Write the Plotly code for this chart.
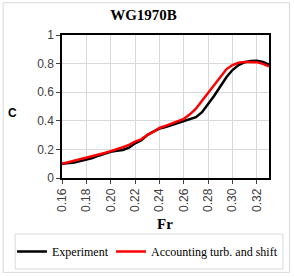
import plotly.graph_objects as go

fr = [0.160, 0.165, 0.170, 0.175, 0.180, 0.185, 0.190, 0.195, 0.200, 0.205,
      0.210, 0.215, 0.220, 0.225, 0.230, 0.235, 0.240, 0.245, 0.250, 0.255,
      0.260, 0.265, 0.270, 0.275, 0.280, 0.285, 0.290, 0.295, 0.300, 0.305,
      0.310, 0.315, 0.320, 0.325, 0.330]
c_experiment = [0.100, 0.102, 0.108, 0.118, 0.128, 0.140, 0.156, 0.170, 0.183, 0.190,
                0.196, 0.212, 0.243, 0.262, 0.300, 0.325, 0.345, 0.357, 0.370, 0.385,
                0.398, 0.408, 0.425, 0.460, 0.515, 0.575, 0.640, 0.705, 0.755, 0.790,
                0.810, 0.818, 0.820, 0.812, 0.792]
c_model = [0.100, 0.110, 0.120, 0.130, 0.142, 0.152, 0.163, 0.175, 0.188, 0.200,
           0.215, 0.232, 0.255, 0.270, 0.300, 0.322, 0.350, 0.365, 0.380, 0.395,
           0.413, 0.445, 0.485, 0.540, 0.595, 0.655, 0.712, 0.760, 0.790, 0.806,
           0.812, 0.812, 0.810, 0.798, 0.780]

x_ticks = [0.16, 0.18, 0.20, 0.22, 0.24, 0.26, 0.28, 0.30, 0.32]
x_ticktext = ["0.16", "0.18", "0.20", "0.22", "0.24", "0.26", "0.28", "0.30", "0.32"]
y_ticks = [0, 0.2, 0.4, 0.6, 0.8, 1]
y_ticktext = ["0", "0.2", "0.4", "0.6", "0.8", "1"]

W, H = 294, 277
L, R, T, B = 62, 269.5, 35.3, 178.3


def px(x):
    return (x - L) / (R - L)


def py(y):
    return (B - y) / (B - T)


fig = go.Figure()
fig.add_trace(go.Scatter(x=fr, y=c_experiment, mode="lines", name="Experiment",
                         line=dict(color="black", width=2.5), legend="legend"))
fig.add_trace(go.Scatter(x=fr, y=c_model, mode="lines", name="Accounting turb. and shift",
                         line=dict(color="#ff0000", width=2.5), legend="legend2"))

tickfont = dict(family="Liberation Sans", size=12, color="#404040")
legfont = dict(family="Liberation Serif", size=12, color="black")
fig.update_layout(
    width=W, height=H,
    margin=dict(l=L, r=W - R, t=T, b=H - B, pad=0, autoexpand=False),
    paper_bgcolor="white", plot_bgcolor="white",
    title=dict(text="<b>WG1970B</b>", x=143.5 / W, xanchor="center",
               y=1 - 15 / H, yanchor="middle", yref="container",
               font=dict(family="Liberation Serif", size=15, color="black")),
    xaxis=dict(range=[0.16, 0.33], tickvals=x_ticks, ticktext=x_ticktext, tickangle=-90,
               showgrid=True, gridcolor="#d9d9d9", gridwidth=1,
               showline=True, linecolor="black", linewidth=1.5, mirror=True,
               ticks="outside", ticklen=4, tickcolor="#404040", tickfont=tickfont,
               zeroline=False),
    yaxis=dict(range=[0, 1], tickvals=y_ticks, ticktext=y_ticktext,
               showgrid=True, gridcolor="#d9d9d9", gridwidth=1,
               showline=True, linecolor="black", linewidth=1.5, mirror=True,
               ticks="outside", ticklen=4, tickcolor="#404040", tickfont=tickfont,
               zeroline=False),
    showlegend=True,
    legend=dict(xref="container", yref="container",
                x=12 / W, xanchor="left", y=1 - 251.5 / H, yanchor="middle",
                font=legfont, bgcolor="rgba(0,0,0,0)", borderwidth=0),
    legend2=dict(xref="container", yref="container",
                 x=111 / W, xanchor="left", y=1 - 251.5 / H, yanchor="middle",
                 font=legfont, bgcolor="rgba(0,0,0,0)", borderwidth=0),
    shapes=[
        dict(type="rect", xref="paper", yref="paper", x0=px(3), x1=px(290), y0=py(272.7), y1=py(3),
             line=dict(color="#d9d9d9", width=1), layer="below"),
        dict(type="rect", xref="paper", yref="paper", x0=px(15), x1=px(283.5), y0=py(269.3), y1=py(234.3),
             line=dict(color="#d9d9d9", width=1), layer="below"),
    ],
    annotations=[
        dict(text="<b>C</b>", xref="paper", yref="paper", x=px(12), y=py(113),
             xanchor="center", yanchor="middle", showarrow=False,
             font=dict(family="Liberation Sans", size=12, color="black")),
        dict(text="<b>Fr</b>", xref="paper", yref="paper", x=px(165), y=py(224),
             xanchor="center", yanchor="middle", showarrow=False,
             font=dict(family="Liberation Serif", size=15, color="black")),
    ],
)

fig.write_html("out.html", config={"displayModeBar": False},
               post_script="document.body.style.margin='0';document.body.style.overflow='hidden';")
